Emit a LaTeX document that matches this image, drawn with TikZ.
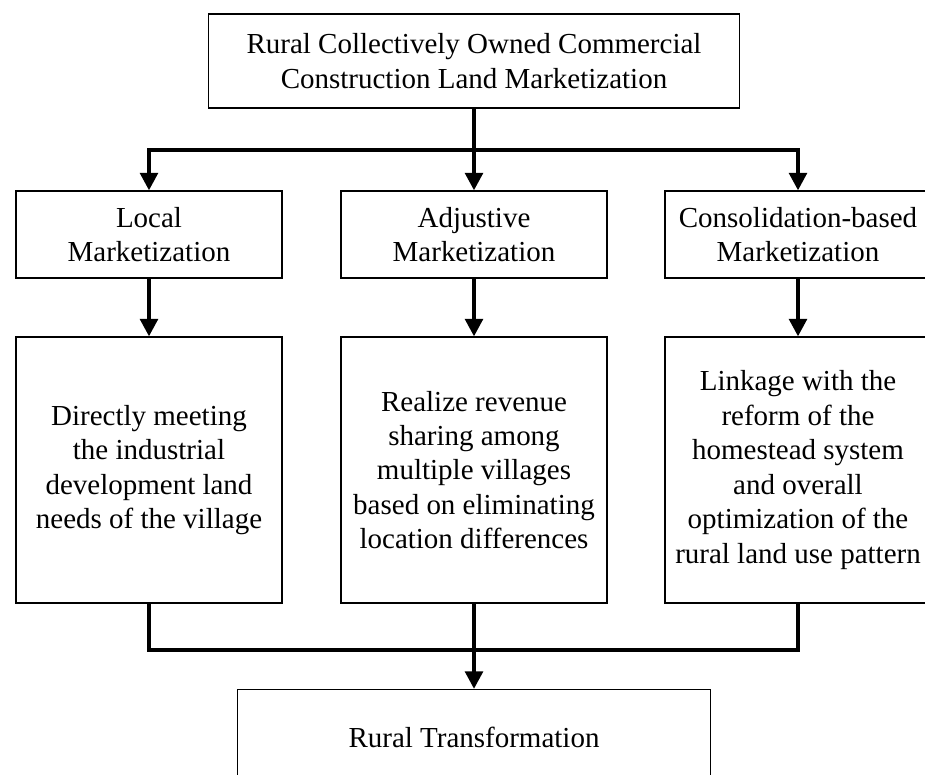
\documentclass[tikz,border=0pt]{standalone}
\usepackage{fontspec}
\setmainfont{Liberation Serif}
\usetikzlibrary{arrows.meta}
\begin{document}
\begin{tikzpicture}[x=0.02cm, y=-0.02cm,
    box/.style={draw, line width=0.7pt, align=center, font=\fontsize{16.5}{19.6}\selectfont, inner sep=0pt},
    link/.style={line width=2.3pt},
    tip/.style={-{Triangle[length=10pt, width=10pt]}}]
    \useasboundingbox (0,0) rectangle (925,774);
    \clip (0,0) rectangle (925,774);
    \node[box, minimum width=10.62cm, minimum height=1.88cm] (top) at (474,61) {Rural Collectively Owned Commercial\\Construction Land Marketization};
    \node[box, minimum width=5.32cm, minimum height=1.74cm] (l1) at (149,234.5) {Local\\Marketization};
    \node[box, minimum width=5.32cm, minimum height=1.74cm] (a1) at (474,234.5) {Adjustive\\Marketization};
    \node[box, minimum width=5.32cm, minimum height=1.74cm] (c1) at (798,234.5) {Consolidation-based\\Marketization};
    \node[box, minimum width=5.32cm, minimum height=5.32cm] (l2) at (149,470) {Directly meeting\\the industrial\\development land\\needs of the village};
    \node[box, minimum width=5.32cm, minimum height=5.32cm] (a2) at (474,470) {Realize revenue\\sharing among\\multiple villages\\based on eliminating\\location differences};
    \node[box, minimum width=5.32cm, minimum height=5.32cm] (c2) at (798,470) {Linkage with the\\reform of the\\homestead system\\and overall\\optimization of the\\rural land use pattern};
    \node[box, minimum width=9.46cm, minimum height=1.9cm] (bot) at (474,737) {Rural Transformation};
    % forks above and below the middle row
    \coordinate (fork) at (474,150);
    \coordinate (join) at (474,650);
    \draw[link] (top.south) -- (fork);
    \draw[link, tip] (fork) -| (l1.north);
    \draw[link, tip] (fork) -| (c1.north);
    \draw[link, tip] (fork) -- (a1.north);
    \draw[link, tip] (l1.south) -- (l2.north);
    \draw[link, tip] (a1.south) -- (a2.north);
    \draw[link, tip] (c1.south) -- (c2.north);
    \draw[link] (l2.south) |- (join);
    \draw[link] (c2.south) |- (join);
    \draw[link, tip] (a2.south) -- (bot.north);
\end{tikzpicture}
\end{document}
